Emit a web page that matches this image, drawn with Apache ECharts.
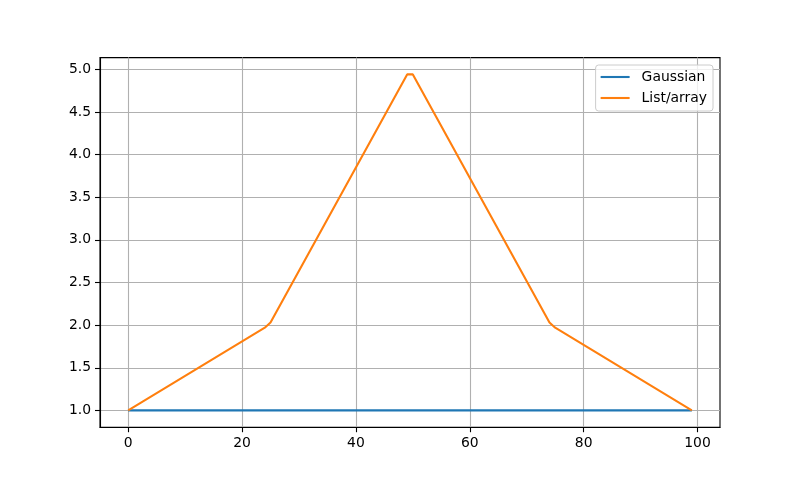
<!DOCTYPE html>
<html>
<head>
<meta charset="utf-8">
<script src="https://cdn.jsdelivr.net/npm/echarts@6/dist/echarts.min.js"></script>
<style>
html,body{margin:0;padding:0;background:#fff;}
#chart{width:800px;height:480px;}
</style>
</head>
<body>
<div id="chart"></div>
<script>
// Data (vertices of the piecewise-linear lines)
const seriesNames = ['Gaussian', 'List/array'];
const gaussianX = [0, 99];
const gaussianY = [1.0, 1.0];
const listX = [0, 24, 25, 49, 50, 74, 75, 99];
const listY = [1.0, 1.97, 2.03, 4.94, 4.94, 2.03, 1.97, 1.0];
const xTicks = [0, 20, 40, 60, 80, 100];
const yTicks = [1.0, 1.5, 2.0, 2.5, 3.0, 3.5, 4.0, 4.5, 5.0];

const pairs = (xs, ys) => xs.map((x, i) => [x, ys[i]]);

const font = 'DejaVu Sans';
const chart = echarts.init(document.getElementById('chart'), null, {renderer: 'canvas'});
chart.setOption({
  animation: false,
  backgroundColor: '#ffffff',
  grid: {left: 100, right: 80, top: 57.6, bottom: 52.8, show: true, borderColor: '#000', borderWidth: 1.1, backgroundColor: 'transparent'},
  legend: {
    orient: 'vertical',
    right: 87, top: 65,
    padding: [4, 6, 5, 5],
    icon: 'rect',
    itemWidth: 29, itemHeight: 2.1, itemGap: 5,
    backgroundColor: 'rgba(255,255,255,0.8)',
    borderColor: '#cccccc', borderWidth: 1, borderRadius: 3,
    textStyle: {fontFamily: font, fontSize: 13.9, color: '#000', padding: [0, 0, 0, 7], lineHeight: 16},
    data: seriesNames
  },
  xAxis: {
    type: 'value', min: -4.95, max: 103.95, splitNumber: 5,
    axisLine: {show: true, onZero: false, lineStyle: {color: '#000', width: 1.1}},
    axisTick: {show: true, length: 5, lineStyle: {color: '#000', width: 1.1}, customValues: xTicks},
    axisLabel: {fontFamily: font, fontSize: 13.9, color: '#000', margin: 9, customValues: xTicks, formatter: v => String(v)},
    splitLine: {show: true, lineStyle: {color: '#b0b0b0', width: 1.1}}
  },
  yAxis: {
    type: 'value', min: 0.803, max: 5.137, splitNumber: 9,
    axisLine: {show: true, onZero: false, lineStyle: {color: '#000', width: 1.1}},
    axisTick: {show: true, length: 5, lineStyle: {color: '#000', width: 1.1}, customValues: yTicks},
    axisLabel: {fontFamily: font, fontSize: 13.9, color: '#000', margin: 9, customValues: yTicks, formatter: v => v.toFixed(1)},
    splitLine: {show: true, lineStyle: {color: '#b0b0b0', width: 1.1}}
  },
  series: [
    {name: seriesNames[0], type: 'line', symbol: 'none', data: pairs(gaussianX, gaussianY),
     lineStyle: {color: '#1f77b4', width: 2.1}, itemStyle: {color: '#1f77b4'}},
    {name: seriesNames[1], type: 'line', symbol: 'none', data: pairs(listX, listY),
     lineStyle: {color: '#ff7f0e', width: 2.1}, itemStyle: {color: '#ff7f0e'}}
  ]
});
</script>
</body>
</html>
